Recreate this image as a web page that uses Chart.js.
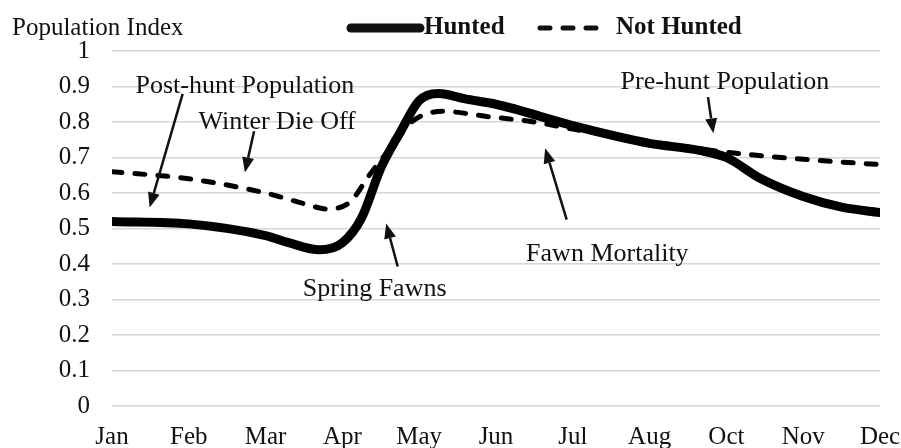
<!DOCTYPE html>
<html>
<head>
<meta charset="utf-8">
<script src="https://cdn.jsdelivr.net/npm/chart.js@4.4.1/dist/chart.umd.min.js"></script>
<style>
    html, body { margin: 0; padding: 0; background: #fff; }
    #wrap { width: 901px; height: 448px; }
</style>
</head>
<body>
<div id="wrap"><canvas id="myChart" width="901" height="448"></canvas></div>
<script>
// Ay etiketleri (orijinal grafikte Sep yok)
const months = ['Jan', 'Feb', 'Mar', 'Apr', 'May', 'Jun', 'Jul', 'Aug', 'Oct', 'Nov', 'Dec'];

// Hunted serisi: x konumu (ay indeksi) ve değer
const huntedX = [0, 1, 2, 2.3, 2.7, 3, 3.25, 3.5, 3.75, 4, 4.25, 4.6, 5, 6, 7, 7.65, 8, 8.45, 9, 9.5, 10];
const huntedY = [0.52, 0.513, 0.48, 0.46, 0.44, 0.46, 0.53, 0.67, 0.77, 0.86, 0.88, 0.865, 0.85, 0.79, 0.74, 0.72, 0.70, 0.64, 0.59, 0.56, 0.545];

// Not Hunted serisi
const notHuntedX = [0, 1, 2, 2.5, 2.8, 3.1, 3.35, 3.6, 3.9, 4.3, 4.9, 5.5, 6, 7, 8, 9, 10];
const notHuntedY = [0.66, 0.64, 0.60, 0.57, 0.555, 0.575, 0.65, 0.72, 0.80, 0.83, 0.815, 0.80, 0.78, 0.745, 0.715, 0.695, 0.68];

// Y ekseni etiketleri
const yTicks = [0, 0.1, 0.2, 0.3, 0.4, 0.5, 0.6, 0.7, 0.8, 0.9, 1];

// Notlar: metin konumu ve ok (başlangıç -> uç), veri koordinatlarında
const noteText = ['Post-hunt Population', 'Winter Die Off', 'Spring Fawns', 'Fawn Mortality', 'Pre-hunt Population'];
const notePos = [[1.73, 0.90], [2.15, 0.80], [3.42, 0.328], [6.45, 0.427], [7.98, 0.912]];
const noteArrow = [
    [0.92, 0.879, 0.49, 0.559],
    [1.85, 0.774, 1.73, 0.658],
    [3.72, 0.393, 3.57, 0.514],
    [5.92, 0.525, 5.64, 0.726],
    [7.76, 0.870, 7.83, 0.768]
];

const serif = '"Liberation Serif", "Times New Roman", serif';

function toPoints(xs, ys) {
    return xs.map((x, i) => ({ x: x, y: ys[i] }));
}

function drawArrow(ctx, x1, y1, x2, y2) {
    const ang = Math.atan2(y2 - y1, x2 - x1);
    const headLen = 15;
    const headW = 6;
    const bx = x2 - headLen * Math.cos(ang);
    const by = y2 - headLen * Math.sin(ang);
    ctx.beginPath();
    ctx.moveTo(x1, y1);
    ctx.lineTo(bx, by);
    ctx.lineWidth = 2.5;
    ctx.stroke();
    ctx.beginPath();
    ctx.moveTo(x2, y2);
    ctx.lineTo(bx + headW * Math.sin(ang), by - headW * Math.cos(ang));
    ctx.lineTo(bx - headW * Math.sin(ang), by + headW * Math.cos(ang));
    ctx.closePath();
    ctx.fill();
}

// Başlık, lejant ve notları çizen eklenti
const extrasPlugin = {
    id: 'extras',
    afterDatasetsDraw(chart) {
        const ctx = chart.ctx;
        const xs = chart.scales.x;
        const ys = chart.scales.y;
        ctx.save();
        ctx.fillStyle = '#111';
        ctx.strokeStyle = '#111';

        // Eksen başlığı
        ctx.font = '25px ' + serif;
        ctx.textAlign = 'left';
        ctx.textBaseline = 'middle';
        ctx.fillText('Population Index', 12, 28);

        // Lejant
        const ds = chart.data.datasets;
        ctx.lineCap = 'round';
        ctx.lineWidth = ds[0].borderWidth;
        ctx.setLineDash([]);
        ctx.beginPath();
        ctx.moveTo(351, 28);
        ctx.lineTo(420, 28);
        ctx.stroke();
        ctx.font = 'bold 25px ' + serif;
        ctx.fillText(ds[0].label, 424, 28);

        ctx.lineWidth = ds[1].borderWidth;
        ctx.setLineDash(ds[1].borderDash);
        ctx.beginPath();
        ctx.moveTo(540, 28);
        ctx.lineTo(608, 28);
        ctx.stroke();
        ctx.setLineDash([]);
        ctx.fillText(ds[1].label, 616, 28);

        // Notlar ve oklar
        ctx.font = '26px ' + serif;
        ctx.textAlign = 'center';
        ctx.lineCap = 'butt';
        noteText.forEach((t, i) => {
            ctx.fillText(t, xs.getPixelForValue(notePos[i][0]), ys.getPixelForValue(notePos[i][1]));
            const a = noteArrow[i];
            drawArrow(ctx,
                xs.getPixelForValue(a[0]), ys.getPixelForValue(a[1]),
                xs.getPixelForValue(a[2]), ys.getPixelForValue(a[3]));
        });
        ctx.restore();
    }
};

const ctx = document.getElementById('myChart').getContext('2d');
const chartInstance = new Chart(ctx, {
    type: 'line',
    data: {
        datasets: [{
            label: 'Hunted',
            data: toPoints(huntedX, huntedY),
            borderColor: '#000',
            borderWidth: 9,
            borderCapStyle: 'round',
            borderJoinStyle: 'round',
            pointRadius: 0,
            cubicInterpolationMode: 'monotone',
            fill: false
        }, {
            label: 'Not Hunted',
            data: toPoints(notHuntedX, notHuntedY),
            borderColor: '#000',
            borderWidth: 5,
            borderDash: [10, 13],
            borderCapStyle: 'round',
            pointRadius: 0,
            cubicInterpolationMode: 'monotone',
            fill: false
        }]
    },
    options: {
        responsive: false,
        animation: false,
        layout: { padding: { left: 0, right: 21, top: 51, bottom: 0 } },
        plugins: {
            legend: { display: false },
            tooltip: { enabled: false }
        },
        scales: {
            x: {
                type: 'linear',
                min: 0,
                max: months.length - 1,
                grid: { display: false, drawTicks: false },
                border: { display: false },
                ticks: {
                    stepSize: 1,
                    autoSkip: false,
                    maxRotation: 0,
                    padding: 16,
                    color: '#111',
                    font: { family: serif, size: 25 },
                    callback: (v) => months[v] || ''
                },
                afterFit: (scale) => {
                    scale.height = 42;
                    // etiket taşmaları için ek boşluk istemiyoruz
                    scale.paddingLeft = 0;
                    scale.paddingRight = 0;
                }
            },
            y: {
                min: 0,
                max: 1,
                grid: { color: '#d6d6d6', lineWidth: 1.5, drawTicks: false },
                border: { display: false },
                afterBuildTicks: (scale) => { scale.ticks = yTicks.map(v => ({ value: v })); },
                ticks: {
                    padding: 22,
                    color: '#111',
                    font: { family: serif, size: 25 },
                    callback: (v) => String(+v.toFixed(1))
                },
                afterFit: (scale) => {
                    scale.width = 112;
                    scale.paddingTop = 0;
                    scale.paddingBottom = 0;
                }
            }
        }
    },
    plugins: [extrasPlugin]
});
</script>
</body>
</html>
